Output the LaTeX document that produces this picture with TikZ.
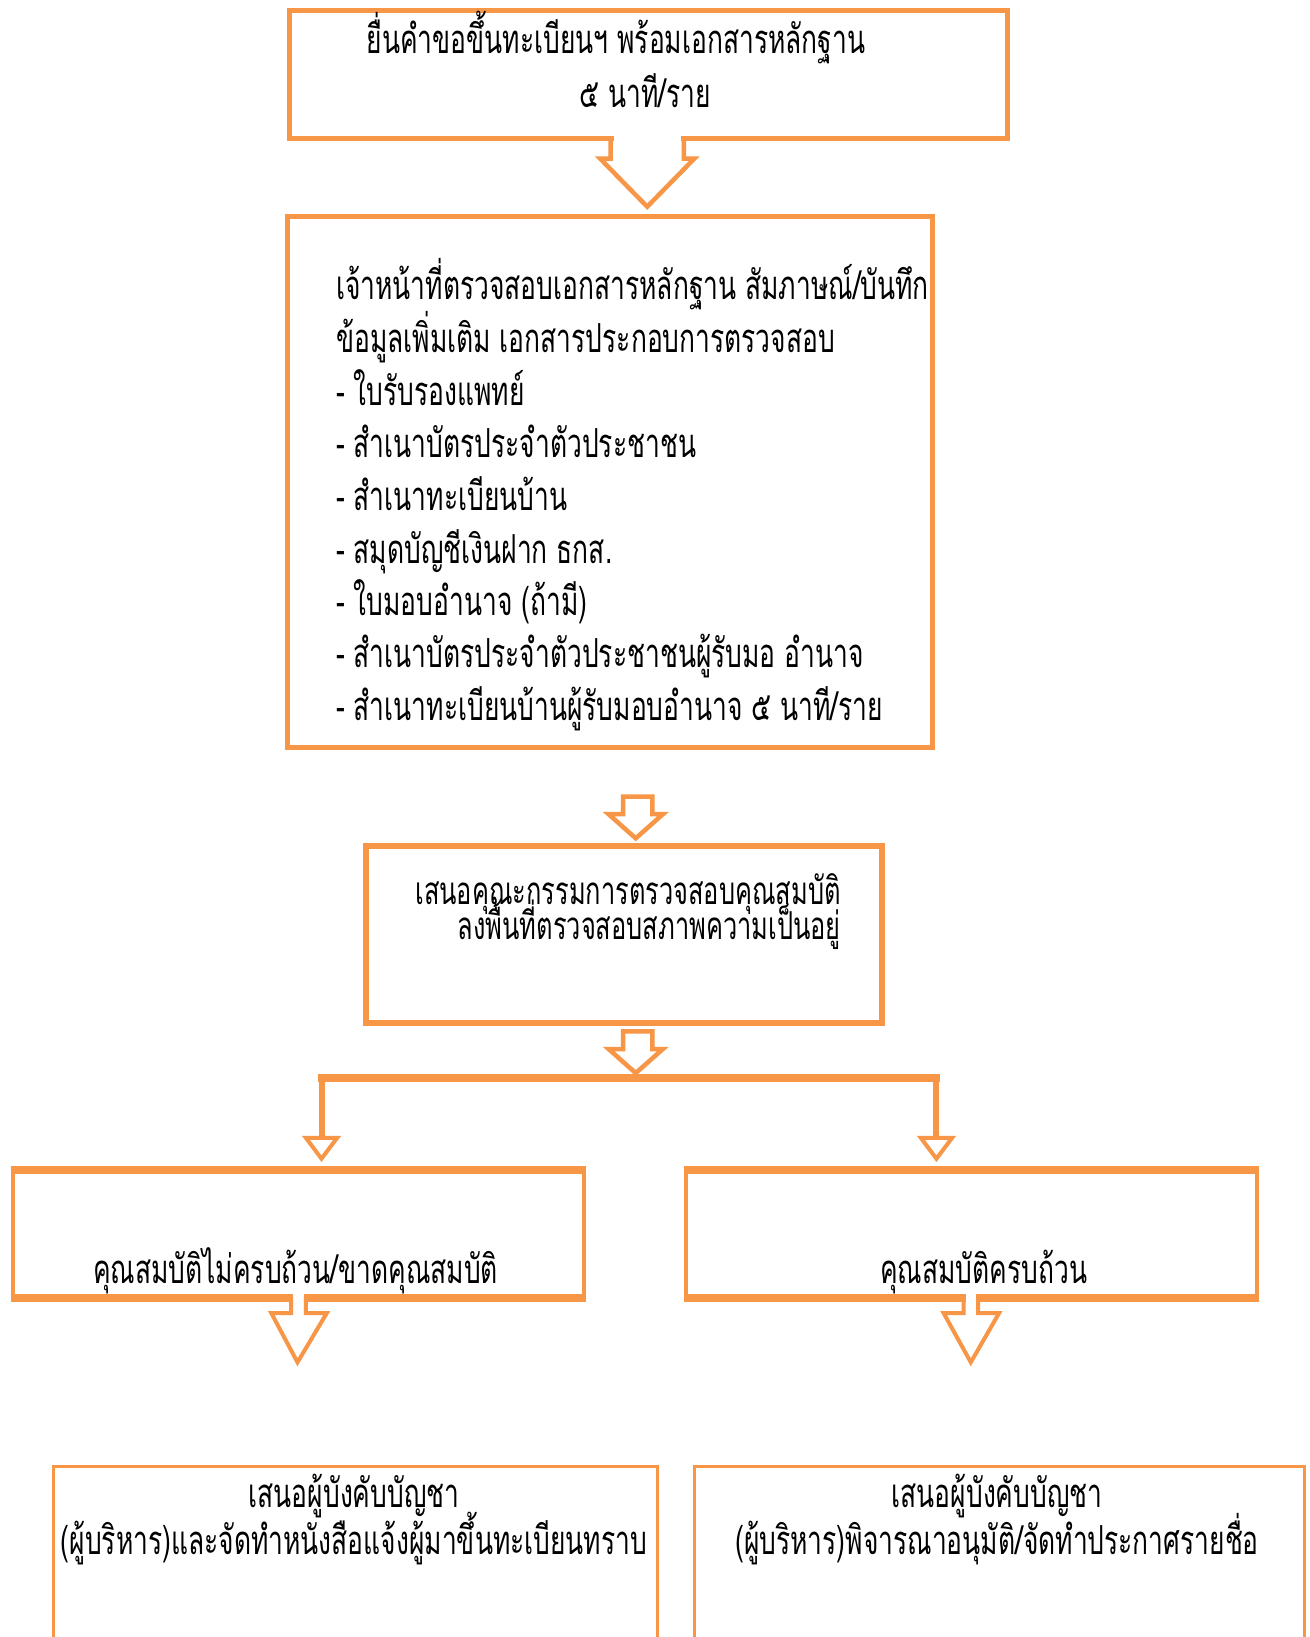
\documentclass[tikz,border=0pt]{standalone}
\usepackage{fontspec}
\newfontfamily\thai[Script=Thai,FakeStretch=0.66]{Loma}
\definecolor{org}{HTML}{F79646}
\tikzset{
  boxline/.style={draw=org,line width=5pt},
  thinbox/.style={draw=org,line width=3.2pt},
  blockarrow/.style={draw=org,line width=4.5pt,line join=miter},
  txt/.style={inner sep=0pt,font=\thai\fontsize{40}{48}\selectfont,text=black},
  smalltxt/.style={inner sep=0pt,font=\thai\fontsize{38.5}{46}\selectfont,text=black},
}
\begin{document}
\begin{tikzpicture}[x=1pt,y=-1pt]
\useasboundingbox (0,0) rectangle (1309,1637);
\fill[white] (0,0) rectangle (1309,1637);
\clip (0,0) rectangle (1309,1637);

% ---- box 1
\node[boxline,minimum width=718,minimum height=128,inner sep=0pt] (b1) at (648.3,74.1) {};
\node[txt,anchor=base] (t1a) at (616,54) {ยื่นคำขอขึ้นทะเบียนฯ พร้อมเอกสารหลักฐาน};
\node[txt,anchor=base] (t1b) at (645,108) {๕ นาที/ราย};
% arrow 1 (joined to box 1)
\fill[white] (613.5,134) rectangle (681,142);
\draw[blockarrow] (b1.south -| 610.7,0) -- (610.7,158.7) -- (600.2,158.7) -- (647.2,206.7) -- (694.2,158.7) -- (683.8,158.7) -- (b1.south -| 683.8,0);

% ---- box 2
\node[boxline,minimum width=645,minimum height=531,inner sep=0pt] (b2) at (609.7,481.8) {};
\node[txt,anchor=base west] (l1) at (336,299) {เจ้าหน้าที่ตรวจสอบเอกสารหลักฐาน สัมภาษณ์/บันทึก};
\node[txt,anchor=base west] (l2) at (336,352) {ข้อมูลเพิ่มเติม เอกสารประกอบการตรวจสอบ};
\node[txt,anchor=base west] (l3) at (336,405.6) {- ใบรับรองแพทย์};
\node[txt,anchor=base west] (l4) at (336,457.7) {- สำเนาบัตรประจำตัวประชาชน};
\node[txt,anchor=base west] (l5) at (336,510) {- สำเนาทะเบียนบ้าน};
\node[txt,anchor=base west] (l6) at (336,563) {- สมุดบัญชีเงินฝาก ธกส.};
\node[txt,anchor=base west] (l7) at (336,615.4) {- ใบมอบอำนาจ (ถ้ามี)};
\node[txt,anchor=base west] (l8) at (336,667.6) {- สำเนาบัตรประจำตัวประชาชนผู้รับมอ อำนาจ};
\node[txt,anchor=base west] (l9) at (336,720.8) {- สำเนาทะเบียนบ้านผู้รับมอบอำนาจ ๕ นาที/ราย};

% arrow 2
\draw[blockarrow] (623.2,796.5) -- (623.2,814.2) -- (608.6,814.2) -- (635.7,838.3) -- (662.9,814.2) -- (652.4,814.2) -- (652.4,796.5) -- cycle;

% ---- box 3
\node[boxline,line width=6pt,minimum width=516,minimum height=177,inner sep=0pt] (b3) at (624.2,934.3) {};
\node[smalltxt,anchor=base east] (t3a) at (841,904) {เสนอคุณะกรรมการตรวจสอบคุณสมบัติ};
\node[smalltxt,anchor=base east] (t3b) at (841,939) {ลงพื้นที่ตรวจสอบสภาพความเป็นอยู่};

% arrow 3
\draw[blockarrow] (623.2,1031.4) -- (623.2,1049) -- (608.6,1049) -- (635.7,1073.1) -- (662.9,1049) -- (652.4,1049) -- (652.4,1031.4) -- cycle;

% branch
\coordinate (brL) at (321.5,1078.3);
\coordinate (brR) at (936.4,1078.3);
\draw[org,line width=8pt,line cap=rect] (brL) -- (brR);
\draw[org,line width=6pt] (brL) -- (321.5,1140);
\draw[org,line width=6pt] (brR) -- (936.4,1140);
\draw[blockarrow,line width=4pt,fill=white] (305.9,1137.8) -- (321.5,1158.7) -- (337.2,1137.8) -- cycle;
\draw[blockarrow,line width=4pt,fill=white] (920.8,1137.8) -- (936.4,1158.7) -- (952.1,1137.8) -- cycle;

% ---- box L and R
\node[draw=org,line width=4pt,minimum width=571,minimum height=124,inner sep=0pt] (bL) at (298,1234.4) {};
\draw[org,line width=8pt] (bL.north west) -- (bL.north east);
\draw[org,line width=8pt] (bL.south west) -- (bL.south east);
\node[txt,anchor=base] (tL) at (295.5,1283.5) {คุณสมบัติไม่ครบถ้วน/ขาดคุณสมบัติ};

\node[draw=org,line width=4pt,minimum width=571,minimum height=124,inner sep=0pt] (bR) at (971.4,1234.4) {};
\draw[org,line width=8pt] (bR.north west) -- (bR.north east);
\draw[org,line width=8pt] (bR.south west) -- (bR.south east);
\node[txt,anchor=base] (tR) at (983.8,1283.5) {คุณสมบัติครบถ้วน};

% arrows under L and R
\fill[white] (293.4,1290) rectangle (303.7,1302);
\draw[blockarrow,line width=4pt] (291.2,1296.5) -- (291.2,1313.2) -- (271.4,1313.2) -- (297.5,1362.3) -- (326.7,1313.2) -- (305.9,1313.2) -- (305.9,1296.5);
\fill[white] (965.5,1290) rectangle (976.1,1302);
\draw[blockarrow,line width=4pt] (963.5,1296.5) -- (963.5,1313.2) -- (943.7,1313.2) -- (970.8,1362.3) -- (999,1313.2) -- (978.1,1313.2) -- (978.1,1296.5);

% ---- bottom boxes (run off the page)
\node[thinbox,minimum width=604,minimum height=240,inner sep=0pt,anchor=north west] (bBL) at (52.2,1464.6) {};
\node[thinbox,minimum width=610,minimum height=240,inner sep=0pt,anchor=north west] (bBR) at (693.2,1464.6) {};
\node[txt,anchor=base] (tBL1) at (354,1507) {เสนอผู้บังคับบัญชา};
\node[txt,anchor=base] (tBL2) at (354,1554) {(ผู้บริหาร)และจัดทำหนังสือแจ้งผู้มาขึ้นทะเบียนทราบ};
\node[txt,anchor=base] (tBR1) at (997,1507) {เสนอผู้บังคับบัญชา};
\node[txt,anchor=base] (tBR2) at (997,1554) {(ผู้บริหาร)พิจารณาอนุมัติ/จัดทำประกาศรายชื่อ};
\end{tikzpicture}
\end{document}
